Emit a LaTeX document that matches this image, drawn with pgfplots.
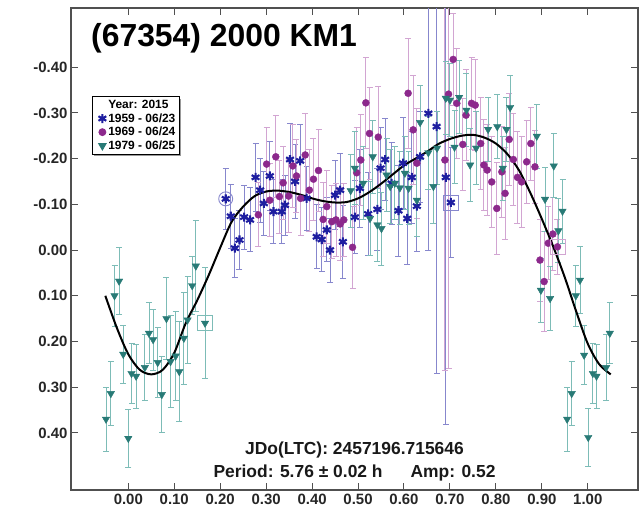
\documentclass[border=0pt]{standalone}
\usepackage{pgfplots}
\pgfplotsset{compat=1.18}
\usepackage{pgfplotstable}
\usepackage{fontspec}
\setmainfont{Liberation Sans}
\usetikzlibrary{shadows}
\definecolor{sblue}{RGB}{30,30,160}
\definecolor{sblueerr}{RGB}{135,135,205}
\definecolor{spurp}{RGB}{140,40,140}
\definecolor{spurperr}{RGB}{210,165,210}
\definecolor{steal}{RGB}{40,122,118}
\definecolor{stealerr}{RGB}{125,188,183}
\definecolor{axgray}{RGB}{80,80,80}

\pgfplotstableread{
x y e
0.212 -0.112 0.067
0.223 -0.074 0.07
0.232 -0.004 0.065
0.242 -0.022 0.065
0.252 -0.072 0.07
0.265 -0.066 0.07
0.277 -0.159 0.075
0.287 -0.131 0.07
0.295 -0.102 0.07
0.308 -0.162 0.075
0.316 -0.084 0.07
0.334 -0.084 0.07
0.341 -0.098 0.065
0.352 -0.198 0.08
0.363 -0.150 0.08
0.374 -0.195 0.08
0.388 -0.113 0.07
0.410 -0.029 0.07
0.421 -0.023 0.07
0.432 -0.044 0.07
0.439 0.000 0.07
0.450 -0.120 0.075
0.461 -0.131 0.08
0.467 -0.018 0.08
0.493 -0.072 0.08
0.504 -0.135 0.085
0.522 -0.079 0.09
0.542 -0.089 0.09
0.549 -0.179 0.09
0.559 -0.198 0.09
0.573 -0.146 0.09
0.588 -0.086 0.10
0.598 -0.190 0.10
0.607 -0.069 0.10
0.617 -0.159 0.10
0.628 -0.096 0.10
0.635 -0.204 0.10
0.653 -0.299 0.30
0.671 -0.270 0.54
0.691 -0.159 0.54
0.702 -0.104 0.12
}\blueT

\pgfplotstableread{
x y e
0.283 -0.077 0.07
0.301 -0.188 0.08
0.308 -0.109 0.08
0.321 -0.204 0.09
0.329 -0.117 0.08
0.337 -0.147 0.08
0.349 -0.118 0.08
0.358 -0.184 0.09
0.366 -0.162 0.08
0.375 -0.113 0.08
0.385 -0.208 0.09
0.394 -0.131 0.09
0.403 -0.155 0.09
0.414 -0.174 0.09
0.424 -0.067 0.08
0.432 -0.095 0.08
0.443 -0.062 0.08
0.452 -0.066 0.08
0.461 -0.057 0.08
0.469 -0.066 0.08
0.488 -0.006 0.09
0.497 -0.169 0.10
0.506 -0.197 0.10
0.517 -0.322 0.10
0.525 -0.255 0.10
0.544 -0.247 0.11
0.609 -0.343 0.12
0.620 -0.263 0.12
0.628 -0.190 0.12
0.689 -0.197 0.46
0.697 -0.341 0.60
0.707 -0.417 0.10
0.715 -0.321 0.12
0.728 -0.231 0.10
0.735 -0.295 0.10
0.747 -0.321 0.10
0.755 -0.317 0.10
0.767 -0.233 0.10
0.774 -0.186 0.10
0.781 -0.175 0.10
0.791 -0.149 0.10
0.802 -0.091 0.10
0.813 -0.171 0.10
0.820 -0.124 0.10
0.829 -0.242 0.10
0.838 -0.198 0.10
0.847 -0.159 0.10
0.856 -0.149 0.10
0.867 -0.193 0.09
0.876 -0.233 0.08
0.885 -0.182 0.08
0.896 0.022 0.09
0.905 0.069 0.11
0.914 -0.015 0.08
0.924 -0.035 0.08
0.934 -0.007 0.06
}\purpT

\pgfplotstableread{
x y e
-0.0485 0.370 0.070
-0.038 0.314 0.070
-0.030 0.100 0.067
-0.020 0.068 0.073
-0.011 0.228 0.064
0.000 0.412 0.064
0.007 0.270 0.066
0.017 0.276 0.070
0.036 0.257 0.073
0.045 0.182 0.067
0.054 0.196 0.067
0.064 0.246 0.077
0.073 0.316 0.084
0.083 0.150 0.090
0.092 0.244 0.100
0.103 0.232 0.097
0.111 0.266 0.110
0.121 0.193 0.100
0.129 0.153 0.096
0.139 0.078 0.064
0.147 0.035 0.100
0.167 0.160 0.122
0.484 -0.130 0.08
0.493 -0.179 0.08
0.511 -0.146 0.08
0.526 -0.069 0.08
0.532 -0.204 0.08
0.542 -0.055 0.08
0.551 -0.047 0.08
0.562 -0.164 0.08
0.570 -0.139 0.08
0.580 -0.146 0.08
0.591 -0.136 0.08
0.602 -0.168 0.08
0.610 -0.135 0.08
0.628 -0.109 0.08
0.635 -0.279 0.08
0.653 -0.213 0.08
0.664 -0.139 0.08
0.672 -0.223 0.08
0.691 -0.332 0.08
0.700 -0.328 0.08
0.710 -0.225 0.08
0.720 -0.334 0.08
0.736 -0.306 0.08
0.744 -0.186 0.08
0.757 -0.223 0.08
0.783 -0.264 0.07
0.803 -0.270 0.07
0.815 -0.179 0.07
0.823 -0.264 0.07
0.831 -0.312 0.07
0.889 -0.249 0.07
0.898 0.088 0.07
0.907 -0.111 0.07
0.918 0.106 0.07
0.926 -0.184 0.07
0.936 -0.042 0.07
0.945 -0.085 0.07
0.955 0.370 0.070
0.965 0.314 0.070
0.974 0.100 0.067
0.983 0.066 0.073
0.992 0.230 0.064
1.001 0.410 0.064
1.011 0.270 0.066
1.019 0.276 0.070
1.040 0.257 0.073
1.048 0.182 0.067
}\tealT

\pgfplotstableread{
x y
-0.050 0.100
-0.025 0.170
0.000 0.228
0.025 0.262
0.050 0.272
0.075 0.262
0.100 0.225
0.125 0.160
0.150 0.110
0.175 0.055
0.200 -0.005
0.225 -0.062
0.250 -0.095
0.275 -0.118
0.300 -0.128
0.325 -0.130
0.350 -0.127
0.375 -0.121
0.400 -0.113
0.425 -0.107
0.450 -0.104
0.475 -0.105
0.500 -0.113
0.525 -0.127
0.550 -0.145
0.575 -0.165
0.600 -0.185
0.625 -0.200
0.650 -0.215
0.675 -0.232
0.700 -0.243
0.725 -0.250
0.750 -0.252
0.775 -0.246
0.800 -0.233
0.825 -0.210
0.850 -0.175
0.875 -0.125
0.900 -0.068
0.925 -0.007
0.950 0.060
0.975 0.135
1.000 0.205
1.025 0.250
1.050 0.272
}\fitT

\begin{document}
\begin{tikzpicture}
\useasboundingbox (0,0) rectangle (639bp,511bp);
\begin{axis}[
  at={(71bp,21bp)}, anchor=south west,
  scale only axis, width=567bp, height=482bp,
  xmin=-0.1247, xmax=1.1093,
  ymin=-0.5295, ymax=0.525,
  y dir=reverse,
  axis line style={axgray, line width=1.2bp},
  tick style={axgray, line width=1bp},
  major tick length=7bp,
  xtick={0,0.1,0.2,0.3,0.4,0.5,0.6,0.7,0.8,0.9,1.0},
  xticklabels={0.00,0.10,0.20,0.30,0.40,0.50,0.60,0.70,0.80,0.90,1.00},
  ytick={-0.4,-0.3,-0.2,-0.1,0,0.1,0.2,0.3,0.4},
  yticklabels={-0.40,-0.30,-0.20,-0.10,0.00,0.10,0.20,0.30,0.40},
  ticklabel style={font=\fontsize{15}{18}\selectfont\bfseries, text=black!85},
  xticklabel style={yshift=-1bp},
  legend style={at={(axis description cs:0.037,0.817)}, anchor=north west,
    draw=black, fill=white, line width=0.8bp,
    drop shadow={shadow xshift=2bp, shadow yshift=-2bp, fill=black!80},
    font=\fontsize{12}{13}\selectfont\bfseries,
    inner sep=1.5bp, row sep=-0.5bp},
  legend cell align=left,
]
\addlegendimage{empty legend}
\addlegendentry{Year: 2015}

\addplot[only marks, mark=asterisk, mark size=4.5bp, sblue, line width=2.1bp,
  error bars/.cd, y dir=both, y explicit,
  error bar style={sblueerr, line width=0.9bp},
  error mark options={sblueerr, line width=0.9bp, mark size=3bp, rotate=90}]
  table[x=x, y=y, y error=e] {\blueT};
\addlegendentry{1959 - 06/23}

\addplot[only marks, mark=*, mark size=3.5bp, spurp,
  error bars/.cd, y dir=both, y explicit,
  error bar style={spurperr, line width=0.9bp},
  error mark options={spurperr, line width=0.9bp, mark size=3bp, rotate=90}]
  table[x=x, y=y, y error=e] {\purpT};
\addlegendentry{1969 - 06/24}

\addplot[only marks, mark=triangle*, mark size=4.3bp, mark options={rotate=180}, steal,
  error bars/.cd, y dir=both, y explicit,
  error bar style={stealerr, line width=0.9bp},
  error mark options={stealerr, line width=0.9bp, mark size=3bp, rotate=90}]
  table[x=x, y=y, y error=e] {\tealT};
\addlegendentry{1979 - 06/25}

\addplot[forget plot, only marks, mark=square, mark size=7.5bp, stealerr, line width=0.9bp]
  coordinates {(0.167,0.160)};
\addplot[forget plot, only marks, mark=square, mark size=7.5bp, sblueerr, line width=0.9bp]
  coordinates {(0.702,-0.104)};
\addplot[forget plot, only marks, mark=square, mark size=7.5bp, spurperr, line width=0.9bp]
  coordinates {(0.934,-0.007)};
\addplot[forget plot, only marks, mark=o, mark size=7bp, sblueerr, line width=0.9bp]
  coordinates {(0.212,-0.112)};

\addplot[forget plot, black, line width=2bp, smooth, no markers] table[x=x, y=y] {\fitT};

\node[anchor=west, font=\fontsize{32}{36}\selectfont\bfseries, fill=white, inner sep=1bp]
  at (axis description cs:0.0335,0.938) {(67354) 2000 KM1};
\node[font=\fontsize{17.5}{20}\selectfont\bfseries, text=black!90]
  at (axis description cs:0.5,0.083) {JDo(LTC): 2457196.715646};
\node[font=\fontsize{17.5}{20}\selectfont\bfseries, text=black!90]
  at (axis description cs:0.5,0.036) {Period: 5.76 ± 0.02 h\hspace{1.6em}Amp: 0.52};
\node[rotate=90, font=\fontsize{16}{18}\selectfont\bfseries, text=black!90]
  at (axis description cs:-0.0864,0.5436) {Magnitude(R) alpha(21.0°)};
\end{axis}
\end{tikzpicture}
\end{document}
